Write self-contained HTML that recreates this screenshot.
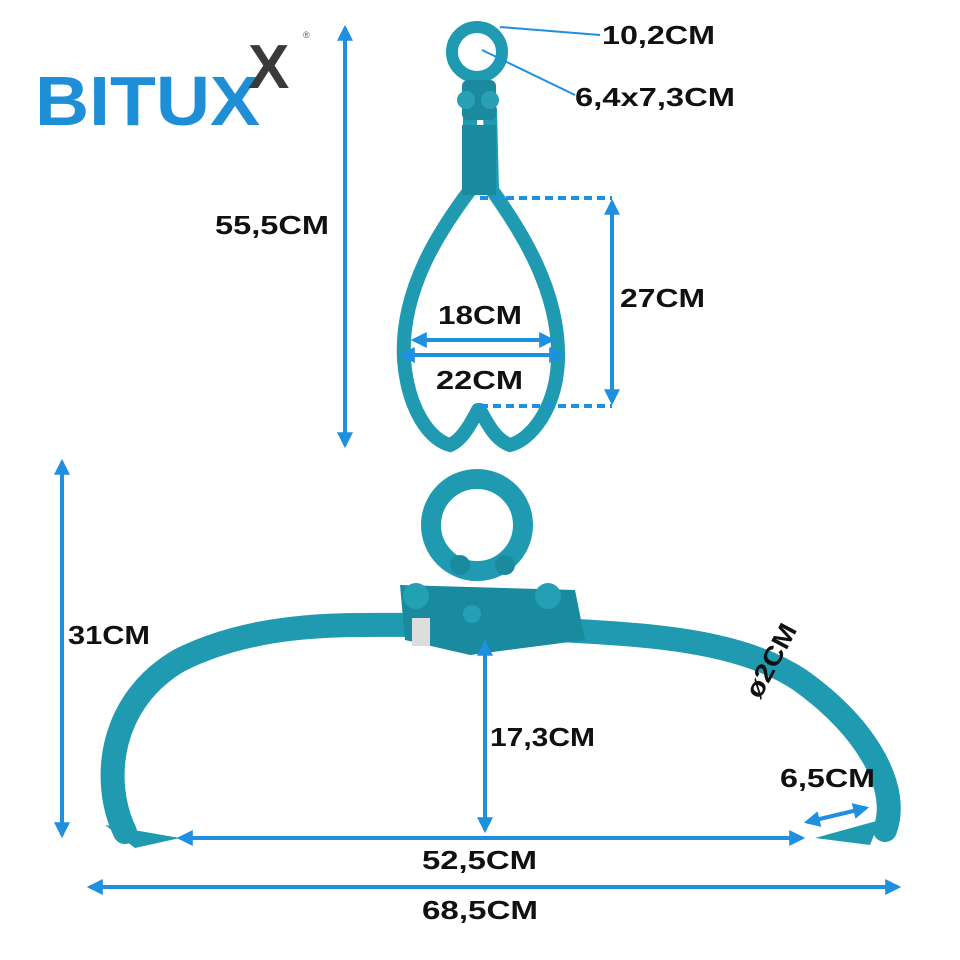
<!DOCTYPE html>
<html><head><meta charset="utf-8"><style>
html,body{margin:0;padding:0;background:#fff}
svg{display:block}
text{font-family:"Liberation Sans",sans-serif;font-weight:bold;fill:#111}
</style></head><body>
<svg width="960" height="960" viewBox="0 0 960 960" xmlns="http://www.w3.org/2000/svg">
<defs>
<marker id="a" viewBox="0 0 10 10" refX="8" refY="5" markerWidth="4" markerHeight="4" orient="auto-start-reverse"><path d="M0,0L10,5L0,10z" fill="#1f8fe0"/></marker>
</defs>
<!-- logo -->
<text x="35" y="125" font-size="70" style="fill:#1e8fd6;font-weight:bold" textLength="225" lengthAdjust="spacingAndGlyphs">BITUX</text>
<text x="248" y="88" font-size="62" style="fill:#3a3a3a">X</text>
<text x="303" y="38" font-size="9" style="fill:#555;font-weight:normal">®</text>

<!-- top tong -->
<g fill="none" stroke="#1f9ab0" stroke-linecap="round">
<circle cx="477" cy="52" r="25" stroke-width="12"/>
<path d="M470,110 L470,190 C440,230 400,290 404,360 C408,410 430,440 450,445 C462,440 470,425 478,410" stroke-width="14"/>
<path d="M490,110 L492,190 C520,230 560,290 558,360 C556,410 530,440 510,445 C496,440 488,425 480,410" stroke-width="14"/>
</g>
<rect x="462" y="80" width="34" height="40" rx="6" fill="#1b8a9e"/>
<circle cx="466" cy="100" r="9" fill="#2aa0b4"/><circle cx="490" cy="100" r="9" fill="#2aa0b4"/>
<rect x="462" y="125" width="34" height="70" fill="#1b8a9e"/>

<!-- bottom tong -->
<g fill="none" stroke="#1f9ab0" stroke-linecap="round">
<circle cx="477" cy="525" r="46" stroke-width="20"/>
<path d="M125,832 C100,780 110,700 180,660 C260,620 350,625 420,625 L560,630 C650,635 740,640 800,680 C870,730 900,790 885,830" stroke-width="24"/>
</g>
<path d="M105,825 L180,838 L135,848z" fill="#1f9ab0"/>
<path d="M880,820 L815,838 L870,845z" fill="#1f9ab0"/>
<path d="M400,585 L575,590 L585,640 L470,655 L405,640z" fill="#1a8a9e"/>
<circle cx="416" cy="596" r="13" fill="#23a0b4"/><circle cx="548" cy="596" r="13" fill="#23a0b4"/>
<circle cx="472" cy="614" r="9" fill="#23a0b4"/>
<circle cx="460" cy="565" r="10" fill="#1a8a9e"/><circle cx="505" cy="565" r="10" fill="#1a8a9e"/>
<rect x="412" y="618" width="18" height="28" fill="#ddd"/>

<!-- dimension lines -->
<g stroke="#1f8fe0" stroke-width="4" fill="none">
<line x1="345" y1="28" x2="345" y2="445" marker-start="url(#a)" marker-end="url(#a)"/>
<line x1="480" y1="198" x2="612" y2="198" stroke-dasharray="8,5"/>
<line x1="480" y1="406" x2="612" y2="406" stroke-dasharray="8,5"/>
<line x1="612" y1="202" x2="612" y2="402" marker-start="url(#a)" marker-end="url(#a)"/>
<line x1="414" y1="340" x2="552" y2="340" marker-start="url(#a)" marker-end="url(#a)"/>
<line x1="402" y1="355" x2="562" y2="355" marker-start="url(#a)" marker-end="url(#a)"/>
<line x1="62" y1="462" x2="62" y2="835" marker-start="url(#a)" marker-end="url(#a)"/>
<line x1="485" y1="643" x2="485" y2="830" marker-start="url(#a)" marker-end="url(#a)"/>
<line x1="180" y1="838" x2="802" y2="838" marker-start="url(#a)" marker-end="url(#a)"/>
<line x1="90" y1="887" x2="898" y2="887" marker-start="url(#a)" marker-end="url(#a)"/>
<line x1="807" y1="822" x2="866" y2="808" marker-start="url(#a)" marker-end="url(#a)"/>
<line x1="500" y1="27" x2="600" y2="35" stroke-width="2"/>
<line x1="482" y1="50" x2="575" y2="95" stroke-width="2"/>
</g>

<!-- labels -->
<g font-size="26">
<text x="602" y="44" textLength="113" lengthAdjust="spacingAndGlyphs">10,2CM</text>
<text x="575" y="106" textLength="160" lengthAdjust="spacingAndGlyphs">6,4x7,3CM</text>
<text x="215" y="234" textLength="114" lengthAdjust="spacingAndGlyphs">55,5CM</text>
<text x="620" y="307" textLength="85" lengthAdjust="spacingAndGlyphs">27CM</text>
<text x="438" y="324" textLength="84" lengthAdjust="spacingAndGlyphs">18CM</text>
<text x="436" y="389" textLength="87" lengthAdjust="spacingAndGlyphs">22CM</text>
<text x="68" y="644" textLength="82" lengthAdjust="spacingAndGlyphs">31CM</text>
<text x="490" y="746" textLength="105" lengthAdjust="spacingAndGlyphs">17,3CM</text>
<text x="780" y="787" textLength="95" lengthAdjust="spacingAndGlyphs">6,5CM</text>
<text x="422" y="869" textLength="115" lengthAdjust="spacingAndGlyphs">52,5CM</text>
<text x="422" y="919" textLength="116" lengthAdjust="spacingAndGlyphs">68,5CM</text>
<text x="0" y="0" transform="translate(760,700) rotate(-62)" textLength="80" lengthAdjust="spacingAndGlyphs">ø2CM</text>
</g>
</svg>
</body></html>
